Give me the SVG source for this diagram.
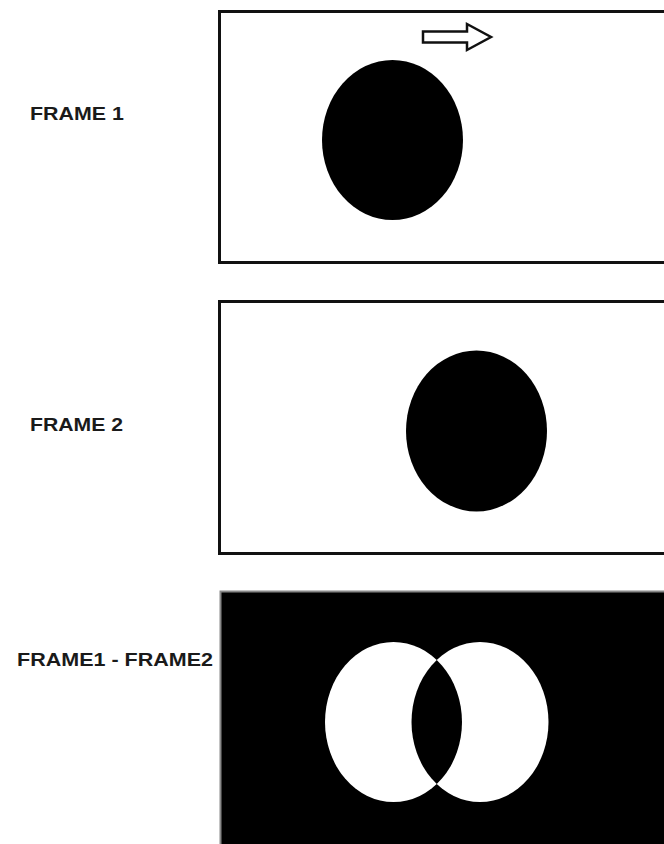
<svg xmlns="http://www.w3.org/2000/svg" width="664" height="844" viewBox="0 0 664 844">
<style>
.frame{fill:#fff;stroke:#111;stroke-width:3}
.lbl{font-family:"Liberation Sans",Arial,sans-serif;font-weight:bold;font-size:19px;fill:#1a1a1a}
</style>
<rect width="664" height="844" fill="#fff"/>
<g id="frame1">
<rect class="frame" x="219.5" y="11.5" width="460" height="251"/>
<ellipse cx="392.5" cy="140" rx="70.5" ry="80" fill="#000"/>
<path d="M423,31.5 H467 V24 L491,37 L467,50 V42.5 H423 Z" fill="#fff" stroke="#111" stroke-width="2.5" stroke-linejoin="miter"/>
<text class="lbl" x="30" y="120" textLength="94" lengthAdjust="spacingAndGlyphs">FRAME 1</text>
</g>
<g id="frame2">
<rect class="frame" x="219.5" y="301.5" width="460" height="252"/>
<ellipse cx="476.5" cy="431" rx="70.5" ry="80.5" fill="#000"/>
<text class="lbl" x="30" y="431" textLength="93" lengthAdjust="spacingAndGlyphs">FRAME 2</text>
</g>
<g id="frame3">
<rect x="220.5" y="591.5" width="460" height="260" fill="#000" stroke="#888" stroke-width="2"/>
<ellipse cx="393.5" cy="722" rx="68.5" ry="80" fill="#fff"/>
<ellipse cx="480" cy="722" rx="68.5" ry="80" fill="#fff"/>
<clipPath id="cl"><ellipse cx="393.5" cy="722" rx="68.5" ry="80"/></clipPath>
<ellipse cx="480" cy="722" rx="68.5" ry="80" fill="#000" clip-path="url(#cl)"/>
<text class="lbl" x="17" y="666" textLength="196" lengthAdjust="spacingAndGlyphs">FRAME1 - FRAME2</text>
</g>
<g id="connectors"></g>
</svg>
